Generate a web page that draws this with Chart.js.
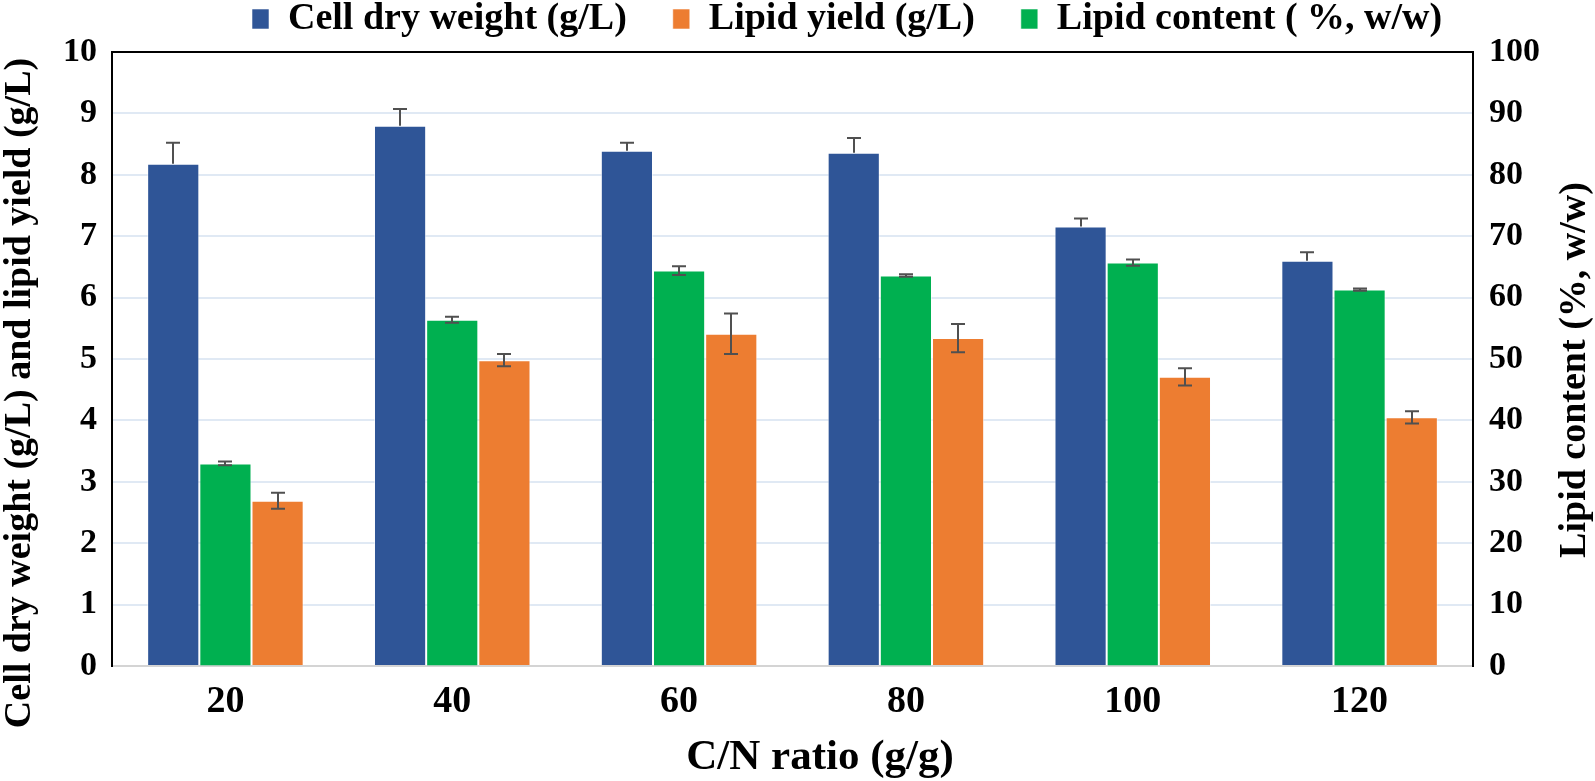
<!DOCTYPE html>
<html>
<head>
<meta charset="utf-8">
<script src="https://cdn.jsdelivr.net/npm/chart.js@4.4.1/dist/chart.umd.min.js"></script>
<style>
html,body{margin:0;padding:0;background:#fff;}
#wrap{width:1595px;height:781px;}
</style>
</head>
<body>
<div id="wrap"><canvas id="c" width="1595" height="781"></canvas></div>
<script>
// ---- data ----
const categories = ['20', '40', '60', '80', '100', '120'];
const cellDryWeight = [8.18, 8.80, 8.39, 8.36, 7.16, 6.60];      // g/L
const cellDryWeightErr = [0.34, 0.27, 0.13, 0.24, 0.13, 0.14];
const lipidContent = [33.0, 56.4, 64.4, 63.6, 65.7, 61.3];        // %, w/w
const lipidContentErr = [0.3, 0.5, 0.7, 0.2, 0.5, 0.2];
const lipidYield = [2.69, 4.98, 5.41, 5.34, 4.71, 4.05];          // g/L
const lipidYieldErr = [0.13, 0.10, 0.33, 0.23, 0.14, 0.10];

const seriesLabels = ['Cell dry weight (g/L)', 'Lipid content ( %, w/w)', 'Lipid yield (g/L)'];
const legendOrder = ['Cell dry weight (g/L)', 'Lipid yield (g/L)', 'Lipid content ( %, w/w)'];
const leftTicks = [0, 10, 1];     // min, max, step
const rightTicks = [0, 100, 10];
const xTitle = 'C/N ratio (g/g)';
const yLeftTitle = 'Cell dry weight (g/L) and lipid yield (g/L)';
const yRightTitle = 'Lipid content (%, w/w)';

const FONT = "'Liberation Serif', 'Times New Roman', serif";
Chart.defaults.font.family = FONT;
Chart.defaults.color = '#000';

const errorBarPlugin = {
  id: 'errorBars',
  afterDatasetsDraw(chart) {
    const ctx = chart.ctx;
    ctx.save();
    ctx.strokeStyle = '#505050';
    ctx.lineWidth = 2;
    chart.data.datasets.forEach((ds, di) => {
      const meta = chart.getDatasetMeta(di);
      const sc = chart.scales[ds.yAxisID];
      meta.data.forEach((bar, i) => {
        const v = ds.data[i], e = ds.errors[i];
        const x = Math.round(bar.x);
        const yTop = sc.getPixelForValue(v + e);
        const yBot = ds.plusOnly ? sc.getPixelForValue(v) : sc.getPixelForValue(v - e);
        ctx.beginPath();
        ctx.moveTo(x, yTop); ctx.lineTo(x, yBot);
        ctx.moveTo(x - 7, yTop); ctx.lineTo(x + 7, yTop);
        if (!ds.plusOnly) { ctx.moveTo(x - 7, yBot); ctx.lineTo(x + 7, yBot); }
        ctx.stroke();
      });
    });
    ctx.restore();
  }
};

const layoutPlugin = {
  id: 'layoutFix',
  beforeLayout(chart) {
    const lg = chart.legend;
    if (lg && !lg._patched) {
      const orig = lg.fit.bind(lg);
      lg.fit = function () { orig(); this.height = 52; };
      lg._patched = true;
    }
  },
  afterLayout(chart) {
    const lg = chart.legend;
    if (!lg) return;
    const pad = lg.options.labels.padding;
    lg.left = 252 - pad;
    lg.top = -pad;
  }
};

const titlePlugin = {
  id: 'axisTitles',
  afterDraw(chart) {
    const ctx = chart.ctx;
    ctx.save();
    ctx.fillStyle = '#000';
    ctx.textAlign = 'center';
    ctx.textBaseline = 'middle';
    ctx.font = 'bold 43px ' + FONT;
    ctx.fillText(xTitle, 820, 758);
    ctx.font = 'bold 38px ' + FONT;
    ctx.save(); ctx.translate(20, 393); ctx.rotate(-Math.PI / 2); ctx.fillText(yLeftTitle, 0, 0); ctx.restore();
    ctx.font = 'bold 38px ' + FONT;
    ctx.save(); ctx.translate(1575, 370); ctx.rotate(-Math.PI / 2); ctx.fillText(yRightTitle, 0, 0); ctx.restore();
    ctx.restore();
  }
};

const barBorder = 'rgba(255,255,255,0.55)';
new Chart(document.getElementById('c'), {
  type: 'bar',
  data: {
    labels: categories,
    datasets: [
      { label: seriesLabels[0], data: cellDryWeight, errors: cellDryWeightErr, plusOnly: true,
        yAxisID: 'y', backgroundColor: '#2F5597', borderColor: barBorder, borderWidth: 1 },
      { label: seriesLabels[1], data: lipidContent, errors: lipidContentErr, plusOnly: false,
        yAxisID: 'y1', backgroundColor: '#00B050', borderColor: barBorder, borderWidth: 1 },
      { label: seriesLabels[2], data: lipidYield, errors: lipidYieldErr, plusOnly: false,
        yAxisID: 'y', backgroundColor: '#ED7D31', borderColor: barBorder, borderWidth: 1 }
    ]
  },
  options: {
    responsive: false,
    animation: false,
    layout: { padding: 0 },
    datasets: { bar: { categoryPercentage: 0.69, barPercentage: 1.0 } },
    plugins: {
      tooltip: { enabled: false },
      legend: {
        display: true,
        position: 'top',
        align: 'start',
        labels: {
          boxWidth: 17, boxHeight: 20, padding: 46,
          font: { size: 38, weight: 'bold', family: FONT }, color: '#000',
          sort: (a, b) => legendOrder.indexOf(a.text) - legendOrder.indexOf(b.text)
        }
      }
    },
    scales: {
      x: {
        grid: { display: false, drawTicks: false },
        border: { display: true, color: '#d4d4d4', width: 2 },
        ticks: { font: { size: 38, weight: 'bold', family: FONT }, color: '#000', padding: 13 },
        afterFit: (s) => { s.height = 115; }
      },
      y: {
        position: 'left',
        min: leftTicks[0], max: leftTicks[1],
        ticks: { stepSize: leftTicks[2], font: { size: 34, weight: 'bold', family: FONT }, color: '#000', padding: 15 },
        grid: {
          drawTicks: false,
          color: (c) => c.tick.value === 10 ? '#000' : (c.tick.value === 0 ? '#d4d4d4' : '#e0e9f4'),
          lineWidth: 2
        },
        border: { display: true, color: '#000', width: 2 },
        afterFit: (s) => { s.width = 112; }
      },
      y1: {
        position: 'right',
        min: rightTicks[0], max: rightTicks[1],
        ticks: { stepSize: rightTicks[2], font: { size: 34, weight: 'bold', family: FONT }, color: '#000', padding: 16 },
        grid: { drawOnChartArea: false, drawTicks: false },
        border: { display: true, color: '#000', width: 2 },
        afterFit: (s) => { s.width = 122; }
      }
    }
  },
  plugins: [layoutPlugin, errorBarPlugin, titlePlugin]
});
</script>
</body>
</html>
